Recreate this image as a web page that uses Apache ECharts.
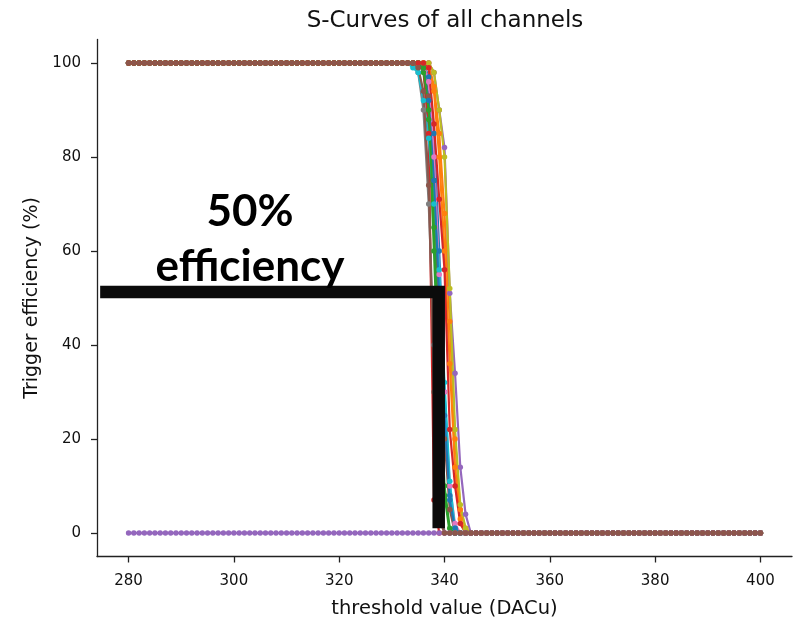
<!DOCTYPE html>
<html>
<head>
<meta charset="utf-8">
<script src="https://cdn.jsdelivr.net/npm/echarts@6/dist/echarts.min.js"></script>
<style>
  html, body { margin: 0; padding: 0; background: #fff; }
  #main { width: 803px; height: 617px; }
</style>
</head>
<body>
<div id="main"></div>
<script>
// threshold scan, one point per DAC unit
var thresholds = [];
for (var t = 280; t <= 400; t++) thresholds.push(t);

var xTicks = [280, 300, 320, 340, 360, 380, 400];
var yTicks = [0, 20, 40, 60, 80, 100];

// per channel: first threshold of the drop, then the values read from there on
// (100 before it, 0 after the listed values)
var dropStart = [336, 337, 335, 336, 337, 336, 336, 335, 338, 333, 336, 337, 336, 337, 280, 335];
var dropValues = [
  [100, 97, 85, 60, 30, 8, 1],
  [100, 95, 85, 68, 45, 20, 5, 1],
  [100, 98, 88, 60, 30, 8],
  [99, 85, 7],
  [100, 98, 90, 82, 51, 34, 14, 4],
  [99, 93, 75, 45, 20, 5],
  [100, 96, 80, 55, 30, 10, 2],
  [98, 90, 70, 40, 10],
  [98, 90, 80, 52, 22, 6, 1],
  [100, 99, 98, 92, 84, 70, 56, 32, 11, 1],
  [99, 92, 75, 50, 25, 7, 1],
  [99, 94, 80, 60, 36, 14, 3],
  [99, 90, 65, 35, 10, 1],
  [99, 87, 71, 56, 22, 10, 2],
  [0],
  [99, 94, 74, 30, 3]
];
var colors = ['#1f77b4', '#ff7f0e', '#2ca02c', '#d62728', '#9467bd',
              '#8c564b', '#e377c2', '#7f7f7f', '#bcbd22', '#17becf'];

// hand-drawn 50% marker on top of the plot
var markX = [274.6, 338.9, 338.9];
var markY = [51.3, 51.3, 1];

function channelData(c) {
  var out = [];
  thresholds.forEach(function (x) {
    var i = x - dropStart[c], v;
    if (i < 0) v = 100;
    else v = i < dropValues[c].length ? dropValues[c][i] : 0;
    out.push([x, v]);
  });
  return out;
}

var series = [];
for (var c = 0; c < dropStart.length; c++) {
  series.push({
    type: 'line',
    data: channelData(c),
    symbol: 'circle',
    symbolSize: 5.5,
    showSymbol: true,
    color: colors[c % 10],
    lineStyle: {width: 2.2},
    emphasis: {disabled: true}
  });
}
series.push({
  type: 'line',
  data: markX.map(function (x, i) { return [x, markY[i]]; }),
  symbol: 'none',
  z: 10,
  lineStyle: {width: 12.5, color: '#0b0b0b', cap: 'butt', join: 'miter'},
  emphasis: {disabled: true}
});

var chart = echarts.init(document.getElementById('main'));
chart.setOption({
  animation: false,
  textStyle: {fontFamily: 'DejaVu Sans'},
  title: {
    text: 'S-Curves of all channels',
    left: 440, top: 5, textAlign: 'center',
    textStyle: {fontSize: 23, fontWeight: 'normal', color: '#111', fontFamily: 'DejaVu Sans'}
  },
  grid: {left: 97, right: 11, top: 39.5, bottom: 60.5, outerBoundsMode: 'none', containLabel: false},
  xAxis: {
    type: 'value', min: 274, max: 406,
    name: 'threshold value (DACu)', nameLocation: 'middle', nameGap: 42,
    nameTextStyle: {fontSize: 19.5, color: '#111'},
    axisLine: {show: true, onZero: false, lineStyle: {color: '#222', width: 1.3}},
    axisTick: {show: true, length: 6, customValues: xTicks, lineStyle: {color: '#222', width: 1.3}},
    axisLabel: {customValues: xTicks, fontSize: 15, color: '#111', margin: 17},
    splitLine: {show: false}
  },
  yAxis: {
    type: 'value', min: -5, max: 105,
    name: 'Trigger efficiency (%)', nameLocation: 'middle', nameGap: 46,
    nameTextStyle: {fontSize: 19, color: '#111'},
    axisLine: {show: true, onZero: false, lineStyle: {color: '#222', width: 1.3}},
    axisTick: {show: true, length: 6, customValues: yTicks, lineStyle: {color: '#222', width: 1.3}},
    axisLabel: {customValues: yTicks, fontSize: 15, color: '#111', margin: 16},
    splitLine: {show: false}
  },
  graphic: [
    {type: 'text', x: 250, y: 212, z: 20,
     style: {text: '50%', font: 'bold 44px Lato', fill: '#000', textAlign: 'center', textVerticalAlign: 'middle'}},
    {type: 'text', x: 250, y: 267, z: 20,
     style: {text: 'efficiency', font: 'bold 44px Lato', fill: '#000', textAlign: 'center', textVerticalAlign: 'middle'}}
  ],
  series: series
});
</script>
</body>
</html>
